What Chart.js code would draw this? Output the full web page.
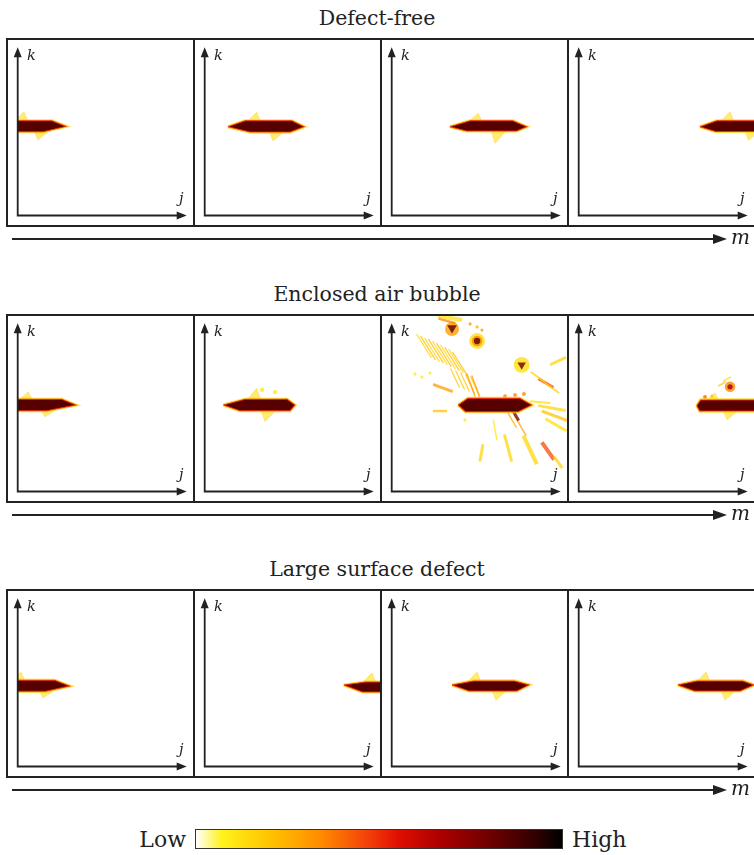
<!DOCTYPE html>
<html><head><meta charset="utf-8">
<script src="https://cdn.jsdelivr.net/npm/chart.js@4.4.1/dist/chart.umd.min.js"></script>
<style>
html,body{margin:0;padding:0;background:#fff;}
body{width:754px;height:855px;overflow:hidden;position:relative;font-family:"DejaVu Serif",serif;color:#222;}
.title{position:absolute;left:0;width:754px;text-align:center;font-size:20.5px;line-height:24px;white-space:nowrap;}
.panel{position:absolute;width:189px;height:189px;border:2px solid #222;box-sizing:border-box;background:#fff;}
.panel canvas{position:absolute;left:0;top:0;}
.lbl{position:absolute;font-style:italic;font-size:14.5px;line-height:16px;white-space:nowrap;}
.mlbl{position:absolute;font-style:italic;font-size:20px;line-height:20px;white-space:nowrap;}
.cbl{position:absolute;font-size:22px;line-height:26px;white-space:nowrap;}
#cbar{position:absolute;left:195px;top:829px;width:368px;height:20px;border:1px solid #333;box-sizing:border-box;}
svg{position:absolute;left:0;top:0;}
</style></head>
<body>
<svg id="arrows" width="754" height="855"></svg>
<script>
// ---------- data ----------
const rowTitles = ['Defect-free', 'Enclosed air bubble', 'Large surface defect'];
const axisLabelV = 'k', axisLabelH = 'j', axisLabelM = 'm';
const legendLow = 'Low', legendHigh = 'High';

// colormap (Low -> High)
const cmapStops  = [0, 0.07, 0.2, 0.34, 0.48, 0.55, 0.66, 0.8, 0.93, 1];
const cmapColors = ['#ffffff', '#fff21c', '#ffc400', '#ff8c00', '#f23a0a', '#e01000', '#b00000', '#700000', '#300000', '#000000'];
const coreLevel = 0.85, edgeLevel = 0.5, haloLevel = 0.16, wingLevel = 0.12;

// main reflection outline per row (3) x panel (4); j, k in % of the panel's image
const tipLeftJ   = [[-10, 13.1, 33.1, 69.1], [-10, 10.5, 37.9, 67.3], [-10, 79.3, 34.3, 56.5]];
const topStartJ  = [[-5, 22.9, 44.6, 78.7],  [-5, 22.9, 43.4, 69.5],  [-5, 91.7, 46.6, 67.4]];
const topEndJ    = [[19.4, 49.7, 69, 110],   [25, 46.9, 73, 110],     [21, 120, 70, 93.6]];
const tipRightJ  = [[27.4, 56.6, 77, 115],   [33.1, 51.4, 79.8, 115], [29.5, 125, 78.2, 99.9]];
const botStartJ  = [[-5, 25.7, 42.7, 78],    [-5, 20, 42, 69],        [-5, 90, 44, 66.1]];
const botEndJ    = [[14.3, 48.6, 71.2, 110], [16.4, 48.6, 72, 110],   [15.8, 120, 71.3, 92]];
const topK       = [[54.1, 54.1, 54.1, 54.1], [52.7, 52.7, 53.2, 52.3], [49.3, 48.3, 48.9, 48.9]];
const botK       = [[47.9, 47.7, 48.3, 48.0], [46.2, 46.2, 45.6, 46.0], [43.0, 42.6, 43.2, 43.2]];
const tipK       = [[50.9, 50.7, 50.7, 50.7], [49.4, 49.4, 49.4, 49.0], [46.0, 46.6, 46.6, 46.6]];
// side lobes (tips)
const upWingJ  = [[3.4, 29.5, 49.3, 86.3], [5.9, 29.5, null, 77.7], [1.7, 95.4, 48.6, 72.6]];
const upWingK  = [[59.3, 58.9, 58.4, 59.3], [57, 58.9, null, 56.3], [54, 53.4, 54, 54]];
const lowWingJ = [[11.4, 38.9, 58.9, 97], [15.4, 34.3, null, 84.6], [14.3, null, 59.4, 83.4]];
const lowWingK = [[43.2, 42.6, 41.3, 43], [42.8, 40, null, 41], [39.2, null, 38, 38]];

// scattered echoes (panel index = row*4 + column)
const markPanel = [6,6,6,6,6,6,6,6,6,6, 6,6,6,6,6,6,6,6,6,6, 6,6,6,6,6, 6,6,6, 6,6,6,6, 6,6,6, 6,6, 6,6,6,6, 6,6,6,6, 6,6,6,6,6,6,6,6,6,6, 7,7,7,7,7,7, 5,5,5];
const markJ = [33.1,34.3,31.4,34.3,44.6,48.6,51.4,48.6,48.6,48.6,
  18.3,20.6,22.9,25.1,27.4,29.7,32.0,34.3,36.6,38.9,
  36.0,38.9,41.7,44.6,47.4,
  13.1,17.1,21.7,
  29.1,27.4,45.1,48.0,
  64.6,70.3,75.4,
  74.1,74.1,
  88.0,83.4,91.4,94.9,
  91.4,93.1,93.7,84.6,
  51.1,66.3,78.9,89.1,94.9,73.1,68.6,58.9,41.7,70.9,
  86.3,86.3,81.7,84.6,72.0,76.0,
  32.6,40.0,46.3];
const markK = [98.9,92.6,97.2,93.2,95.5,93.8,92.0,85.8,85.8,85.8,
  83.0,81.8,80.7,80.1,79.0,77.8,76.7,75.6,74.4,72.7,
  64.8,63.6,62.5,61.4,60.2,
  67.0,65.3,67.6,
  59.1,46.0,60.8,59.7,
  54.5,55.1,55.7,
  72.2,72.2,
  61.9,65.3,59.1,74.4,
  47.7,43.2,38.1,51.1,
  22.2,25.0,23.9,23.3,17.0,38.1,40.9,35.2,40.9,43.2,
  59.8,59.8,61.4,64.2,54.0,54.5,
  58.0,56.8,52.3];
const markLen = [7,4,5,3.2,0.9,0.9,0.9,4.5,3,1.8,
  8,8,8,8,8,8,8,8,8,8,
  6,6,6,6,6,
  0.9,0.9,0.9,
  6,4,7,7,
  1.1,1.1,1.1,
  4.5,2.8,
  5,5,5,5,
  8,8,7,6,
  5,8,9,6,4,7,5,6,0.9,3,
  3,1.5,2.5,2.5,1.1,0.9,
  1.2,1.2,1.1];
const markAngle = [10,0,15,180,0,0,0,0,0,0,
  58,58,58,58,58,58,58,58,58,58,
  65,65,65,65,65,
  0,0,0,
  20,0,70,70,
  0,0,0,
  0,180,
  30,35,35,-25,
  10,20,30,5,
  100,75,65,55,55,60,60,80,0,60,
  0,0,-30,-30,0,0,
  0,0,0];
const markWidth = [4,0,2.5,0,0,0,0,0,0,0,
  1.3,1.3,1.3,1.3,1.3,1.3,1.3,1.3,1.3,1.3,
  1.3,1.3,1.3,1.3,1.3,
  0,0,0,
  3,2.5,1.5,1.5,
  0,0,0,
  0,0,
  3,2,2,3,
  3,3,3,2,
  3,3,4,4,3,1.5,1.5,1.5,0,3,
  0,0,1.5,1.5,0,0,
  0,0,0];
const markValue = [0.12,0.3,0.35,0.85,0.3,0.25,0.3,0.12,0.35,0.85,
  0.15,0.22,0.15,0.22,0.15,0.22,0.15,0.22,0.15,0.22,
  0.2,0.2,0.2,0.2,0.2,
  0.1,0.1,0.1,
  0.3,0.2,0.3,0.3,
  0.35,0.35,0.35,
  0.12,0.8,
  0.45,0.15,0.15,0.15,
  0.15,0.2,0.12,0.12,
  0.15,0.15,0.15,0.45,0.15,0.3,0.25,0.1,0.1,0.8,
  0.35,0.7,0.2,0.15,0.4,0.3,
  0.1,0.1,0.4];
const markShape = ['line','circle','line','triangle','circle','circle','circle','circle','circle','circle',
  'line','line','line','line','line','line','line','line','line','line',
  'line','line','line','line','line',
  'circle','circle','circle',
  'line','line','line','line',
  'circle','circle','circle',
  'circle','triangle',
  'line','line','line','line',
  'line','line','line','line',
  'line','line','line','line','line','line','line','line','circle','line',
  'circle','circle','line','line','circle','circle',
  'circle','circle','circle'];

// ---------- helpers ----------
function hexToRgb(h){return [parseInt(h.slice(1,3),16),parseInt(h.slice(3,5),16),parseInt(h.slice(5,7),16)];}
function cmap(t, a){
  if (a === undefined) a = 1;
  t = Math.max(0, Math.min(1, t));
  let i = 0;
  while (i < cmapStops.length - 2 && t > cmapStops[i+1]) i++;
  const f = (t - cmapStops[i]) / (cmapStops[i+1] - cmapStops[i]);
  const c0 = hexToRgb(cmapColors[i]), c1 = hexToRgb(cmapColors[i+1]);
  const c = c0.map((v, n) => Math.round(v + (c1[n] - v) * f));
  return 'rgba(' + c[0] + ',' + c[1] + ',' + c[2] + ',' + a + ')';
}

const rowTop = [38, 314, 589];
const panelStep = 187;

const axesPlugin = {
  id: 'panelAxes',
  afterDatasetsDraw(chart) {
    const {ctx, chartArea: a, scales: {x, y}} = chart;
    const x0 = x.getPixelForValue(0) - 0.3, y0 = y.getPixelForValue(0) - 0.5;
    const kTip = a.top + 7.3, jTip = a.right - 6.3;
    ctx.save();
    ctx.strokeStyle = '#222'; ctx.fillStyle = '#222';
    ctx.lineWidth = 1.8; ctx.lineJoin = 'miter'; ctx.lineCap = 'butt';
    ctx.beginPath();
    ctx.moveTo(x0, kTip + 8); ctx.lineTo(x0, y0); ctx.lineTo(jTip - 8, y0);
    ctx.stroke();
    ctx.beginPath();
    ctx.moveTo(x0, kTip); ctx.lineTo(x0 - 4, kTip + 10); ctx.lineTo(x0 + 4, kTip + 10); ctx.closePath(); ctx.fill();
    ctx.beginPath();
    ctx.moveTo(jTip, y0); ctx.lineTo(jTip - 10, y0 - 4); ctx.lineTo(jTip - 10, y0 + 4); ctx.closePath(); ctx.fill();
    ctx.restore();
  }
};

function pxLen(chart, len) {
  const s = chart.scales.x;
  return Math.abs(s.getPixelForValue(len) - s.getPixelForValue(0));
}

function buildDatasets(r, c) {
  const ds = [];
  const outline = [
    {x: tipLeftJ[r][c], y: tipK[r][c]}, {x: topStartJ[r][c], y: topK[r][c]},
    {x: topEndJ[r][c], y: topK[r][c]}, {x: tipRightJ[r][c], y: tipK[r][c]},
    {x: botEndJ[r][c], y: botK[r][c]}, {x: botStartJ[r][c], y: botK[r][c]},
    {x: tipLeftJ[r][c], y: tipK[r][c]}
  ];
  const polyBase = {type: 'line', showLine: true, tension: 0, pointRadius: 0, clip: 0, spanGaps: true};
  // core
  ds.push(Object.assign({}, polyBase, {data: outline, fill: 'shape', backgroundColor: cmap(coreLevel), borderColor: cmap(edgeLevel, 0.9), borderWidth: 1.1, order: 1}));
  // halo
  ds.push(Object.assign({}, polyBase, {data: outline, fill: false, backgroundColor: 'rgba(0,0,0,0)', borderColor: cmap(haloLevel, 0.75), borderWidth: 3.2, order: 2}));
  // wings
  if (upWingJ[r][c] !== null) {
    const uj = upWingJ[r][c], uk = upWingK[r][c], tk = topK[r][c] - 1;
    ds.push(Object.assign({}, polyBase, {data: [{x: uj - 6, y: tk}, {x: uj + 2.5, y: tk}, {x: uj, y: uk}, {x: uj - 6, y: tk}],
      fill: 'shape', backgroundColor: cmap(wingLevel, 0.6), borderColor: cmap(0.22, 0.45), borderWidth: 0.7, order: 3}));
  }
  if (lowWingJ[r][c] !== null) {
    const lj = lowWingJ[r][c], lk = lowWingK[r][c], bk = botK[r][c] + 1;
    ds.push(Object.assign({}, polyBase, {data: [{x: lj - 2.5, y: bk}, {x: lj + 7, y: bk}, {x: lj, y: lk}, {x: lj - 2.5, y: bk}],
      fill: 'shape', backgroundColor: cmap(wingLevel, 0.6), borderColor: cmap(0.22, 0.45), borderWidth: 0.7, order: 3}));
  }
  // scattered echoes
  const idx = [];
  markPanel.forEach((p, i) => { if (p === r * 4 + c) idx.push(i); });
  if (idx.length) {
    ds.push({
      type: 'scatter', clip: 0, order: 4,
      data: idx.map(i => ({x: markJ[i], y: markK[i]})),
      pointStyle: ctx => markShape[idx[ctx.dataIndex]],
      pointRotation: ctx => markAngle[idx[ctx.dataIndex]],
      pointRadius: ctx => pxLen(ctx.chart, markLen[idx[ctx.dataIndex]]),
      pointBorderWidth: ctx => markWidth[idx[ctx.dataIndex]],
      pointBackgroundColor: ctx => cmap(markValue[idx[ctx.dataIndex]], 0.8),
      pointBorderColor: ctx => cmap(markValue[idx[ctx.dataIndex]], 0.75),
      pointHoverRadius: ctx => pxLen(ctx.chart, markLen[idx[ctx.dataIndex]])
    });
  }
  return ds;
}

function addDiv(cls, text, left, top, extra) {
  const d = document.createElement('div');
  d.className = cls; d.textContent = text;
  d.style.left = left + 'px'; d.style.top = top + 'px';
  if (extra) Object.assign(d.style, extra);
  document.body.appendChild(d);
  return d;
}

// ---------- build ----------
const svg = document.getElementById('arrows');
let svgInner = '';
for (let r = 0; r < 3; r++) {
  addDiv('title', rowTitles[r], 0, rowTop[r] - 32);
  for (let c = 0; c < 4; c++) {
    const pl = 6 + panelStep * c;
    const panel = document.createElement('div');
    panel.className = 'panel';
    panel.style.left = pl + 'px'; panel.style.top = rowTop[r] + 'px';
    const cv = document.createElement('canvas');
    cv.width = 185; cv.height = 185;
    cv.style.width = '185px'; cv.style.height = '185px';
    panel.appendChild(cv);
    document.body.appendChild(panel);
    new Chart(cv.getContext('2d'), {
      type: 'scatter',
      data: {datasets: buildDatasets(r, c)},
      options: {
        responsive: false, maintainAspectRatio: false, animation: false, events: [],
        layout: {padding: {left: 10, right: 0, top: 0, bottom: 9}},
        scales: {
          x: {type: 'linear', min: 0, max: 100, display: false},
          y: {type: 'linear', min: 0, max: 100, display: false}
        },
        plugins: {legend: {display: false}, tooltip: {enabled: false}, title: {display: false}}
      },
      plugins: [axesPlugin]
    });
    addDiv('lbl', axisLabelV, pl + 21, rowTop[r] + 9);
    addDiv('lbl', axisLabelH, pl + 173, rowTop[r] + 152);
  }
  const my = rowTop[r] + 201;
  svgInner += '<line x1="12" y1="' + my + '" x2="716" y2="' + my + '" stroke="#222" stroke-width="1.8"/>';
  svgInner += '<polygon points="727,' + my + ' 713,' + (my - 5) + ' 713,' + (my + 5) + '" fill="#222"/>';
  addDiv('mlbl', axisLabelM, 731, my - 12);
}
svg.innerHTML = svgInner;

// colour bar
const cbar = document.createElement('div');
cbar.id = 'cbar';
cbar.style.background = 'linear-gradient(to right,' + cmapStops.map((s, i) => cmapColors[i] + ' ' + (s * 100) + '%').join(',') + ')';
document.body.appendChild(cbar);
addDiv('cbl', legendLow, 0, 827, {left: 'auto', right: (754 - 186) + 'px'});
addDiv('cbl', legendHigh, 572, 827);
</script>
</body></html>
